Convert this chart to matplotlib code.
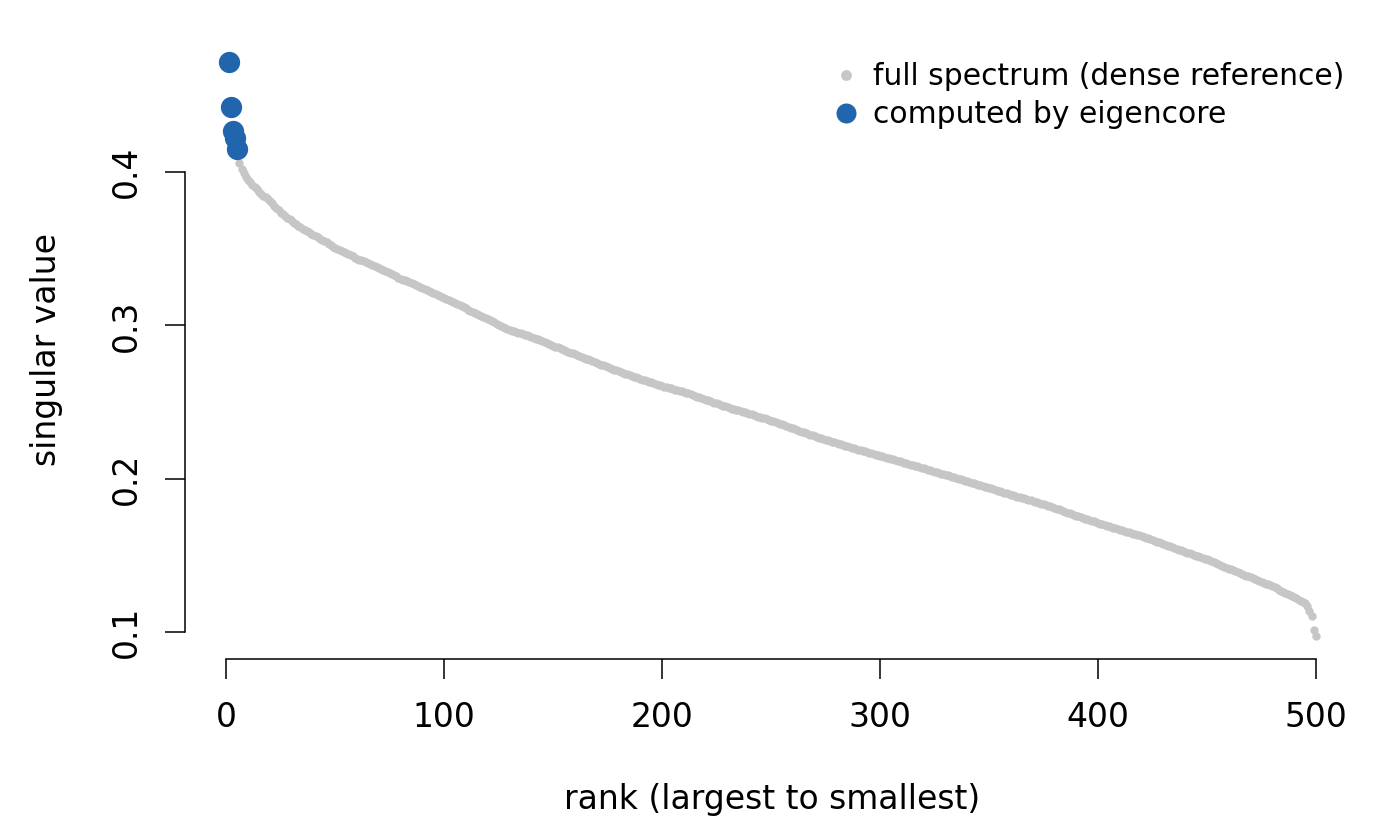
import matplotlib
matplotlib.use("Agg")
import matplotlib.pyplot as plt
from matplotlib.lines import Line2D

# singular values, rank 1..500
singular_values = [
    0.4717, 0.4424, 0.4267, 0.4222, 0.4150, 0.4057, 0.4020, 0.3990, 0.3968, 0.3950,
    0.3934, 0.3918, 0.3902, 0.3886, 0.3870, 0.3858, 0.3846, 0.3834, 0.3822, 0.3810,
    0.3795, 0.3780, 0.3765, 0.3750, 0.3735, 0.3724, 0.3713, 0.3702, 0.3691, 0.3680,
    0.3670, 0.3660, 0.3650, 0.3640, 0.3630, 0.3622, 0.3614, 0.3606, 0.3598, 0.3590,
    0.3582, 0.3574, 0.3566, 0.3558, 0.3550, 0.3541, 0.3532, 0.3523, 0.3514, 0.3505,
    0.3498, 0.3491, 0.3484, 0.3477, 0.3470, 0.3463, 0.3456, 0.3449, 0.3442, 0.3435,
    0.3429, 0.3423, 0.3417, 0.3411, 0.3405, 0.3399, 0.3393, 0.3387, 0.3381, 0.3375,
    0.3368, 0.3361, 0.3354, 0.3347, 0.3340, 0.3333, 0.3326, 0.3319, 0.3312, 0.3305,
    0.3299, 0.3293, 0.3287, 0.3281, 0.3275, 0.3269, 0.3263, 0.3257, 0.3251, 0.3245,
    0.3239, 0.3232, 0.3226, 0.3219, 0.3213, 0.3206, 0.3200, 0.3193, 0.3187, 0.3180,
    0.3173, 0.3166, 0.3159, 0.3152, 0.3145, 0.3138, 0.3131, 0.3124, 0.3117, 0.3110,
    0.3103, 0.3096, 0.3089, 0.3082, 0.3075, 0.3068, 0.3061, 0.3054, 0.3047, 0.3040,
    0.3033, 0.3026, 0.3019, 0.3012, 0.3005, 0.2998, 0.2991, 0.2984, 0.2977, 0.2970,
    0.2966, 0.2961, 0.2957, 0.2952, 0.2948, 0.2943, 0.2939, 0.2934, 0.2930, 0.2925,
    0.2919, 0.2914, 0.2908, 0.2902, 0.2897, 0.2891, 0.2885, 0.2880, 0.2874, 0.2868,
    0.2862, 0.2857, 0.2851, 0.2846, 0.2840, 0.2834, 0.2829, 0.2823, 0.2818, 0.2812,
    0.2806, 0.2801, 0.2795, 0.2789, 0.2784, 0.2778, 0.2772, 0.2767, 0.2761, 0.2755,
    0.2750, 0.2744, 0.2739, 0.2733, 0.2728, 0.2722, 0.2717, 0.2711, 0.2706, 0.2700,
    0.2695, 0.2690, 0.2686, 0.2681, 0.2676, 0.2671, 0.2666, 0.2662, 0.2657, 0.2652,
    0.2647, 0.2643, 0.2638, 0.2633, 0.2629, 0.2624, 0.2619, 0.2614, 0.2610, 0.2605,
    0.2601, 0.2597, 0.2593, 0.2589, 0.2586, 0.2582, 0.2578, 0.2574, 0.2570, 0.2566,
    0.2561, 0.2556, 0.2551, 0.2546, 0.2541, 0.2536, 0.2531, 0.2526, 0.2521, 0.2516,
    0.2511, 0.2506, 0.2501, 0.2496, 0.2492, 0.2487, 0.2482, 0.2477, 0.2472, 0.2467,
    0.2463, 0.2458, 0.2454, 0.2450, 0.2446, 0.2441, 0.2437, 0.2433, 0.2428, 0.2424,
    0.2420, 0.2415, 0.2411, 0.2406, 0.2402, 0.2397, 0.2393, 0.2388, 0.2384, 0.2379,
    0.2374, 0.2369, 0.2364, 0.2359, 0.2354, 0.2348, 0.2343, 0.2338, 0.2333, 0.2328,
    0.2323, 0.2318, 0.2313, 0.2308, 0.2303, 0.2298, 0.2293, 0.2288, 0.2283, 0.2278,
    0.2273, 0.2269, 0.2264, 0.2260, 0.2255, 0.2250, 0.2246, 0.2241, 0.2237, 0.2232,
    0.2228, 0.2224, 0.2219, 0.2215, 0.2211, 0.2207, 0.2203, 0.2198, 0.2194, 0.2190,
    0.2186, 0.2182, 0.2178, 0.2174, 0.2170, 0.2166, 0.2162, 0.2158, 0.2154, 0.2150,
    0.2146, 0.2142, 0.2138, 0.2134, 0.2130, 0.2126, 0.2122, 0.2118, 0.2114, 0.2110,
    0.2106, 0.2102, 0.2097, 0.2093, 0.2089, 0.2085, 0.2081, 0.2076, 0.2072, 0.2068,
    0.2064, 0.2060, 0.2055, 0.2051, 0.2047, 0.2043, 0.2039, 0.2034, 0.2030, 0.2026,
    0.2022, 0.2017, 0.2013, 0.2009, 0.2005, 0.2000, 0.1996, 0.1992, 0.1987, 0.1983,
    0.1979, 0.1975, 0.1970, 0.1966, 0.1962, 0.1958, 0.1954, 0.1949, 0.1945, 0.1941,
    0.1937, 0.1932, 0.1928, 0.1923, 0.1919, 0.1915, 0.1910, 0.1906, 0.1901, 0.1897,
    0.1893, 0.1889, 0.1884, 0.1880, 0.1876, 0.1872, 0.1868, 0.1863, 0.1859, 0.1855,
    0.1851, 0.1846, 0.1842, 0.1837, 0.1833, 0.1829, 0.1824, 0.1820, 0.1815, 0.1811,
    0.1806, 0.1801, 0.1796, 0.1791, 0.1786, 0.1780, 0.1775, 0.1770, 0.1765, 0.1760,
    0.1755, 0.1750, 0.1746, 0.1741, 0.1736, 0.1731, 0.1726, 0.1722, 0.1717, 0.1712,
    0.1708, 0.1703, 0.1699, 0.1694, 0.1690, 0.1686, 0.1681, 0.1677, 0.1672, 0.1668,
    0.1664, 0.1660, 0.1656, 0.1652, 0.1648, 0.1643, 0.1639, 0.1635, 0.1631, 0.1627,
    0.1622, 0.1616, 0.1611, 0.1606, 0.1601, 0.1595, 0.1590, 0.1585, 0.1579, 0.1574,
    0.1569, 0.1564, 0.1559, 0.1554, 0.1549, 0.1544, 0.1539, 0.1534, 0.1529, 0.1524,
    0.1519, 0.1514, 0.1509, 0.1504, 0.1499, 0.1494, 0.1489, 0.1484, 0.1479, 0.1474,
    0.1468, 0.1462, 0.1456, 0.1450, 0.1445, 0.1439, 0.1433, 0.1427, 0.1421, 0.1415,
    0.1409, 0.1404, 0.1398, 0.1392, 0.1387, 0.1381, 0.1375, 0.1369, 0.1364, 0.1358,
    0.1352, 0.1346, 0.1341, 0.1335, 0.1329, 0.1323, 0.1317, 0.1312, 0.1306, 0.1300,
    0.1293, 0.1286, 0.1278, 0.1271, 0.1264, 0.1257, 0.1250, 0.1242, 0.1235, 0.1228,
    0.1220, 0.1212, 0.1205, 0.1198, 0.1190, 0.1172, 0.1140, 0.1105, 0.1013, 0.0975,
]
ranks = list(range(1, len(singular_values) + 1))

computed_ranks = [1, 2, 3, 4, 5]
computed_values = [0.4717, 0.4424, 0.4267, 0.4222, 0.4150]

x_ticks = [0, 100, 200, 300, 400, 500]
x_tick_labels = ["0", "100", "200", "300", "400", "500"]
y_ticks = [0.1, 0.2, 0.3, 0.4]
y_tick_labels = ["0.1", "0.2", "0.3", "0.4"]

legend_labels = ["full spectrum (dense reference)", "computed by eigencore"]
x_label = "rank (largest to smallest)"
y_label = "singular value"

GRAY = "#C6C6C6"
BLUE = "#2166AC"

W, H = 1400, 819
fig = plt.figure(figsize=(W / 100, H / 100), dpi=100)
left, right, top, bottom = 185, 1359.5, 39, 659
aw, ah = right - left, bottom - top
ax = fig.add_axes([left / W, 1 - bottom / H, aw / W, ah / H])

ax.scatter(ranks, singular_values, s=36, color=GRAY, linewidths=0, zorder=2)
ax.scatter(computed_ranks, computed_values, s=235, color=BLUE, linewidths=0, zorder=3)

# R-style 4% axis extension
xmin, xmax = min(ranks), max(ranks)
ymin, ymax = min(singular_values), max(singular_values)
dx, dy = (xmax - xmin) * 0.04, (ymax - ymin) * 0.04
ax.set_xlim(xmin - dx, xmax + dx)
ax.set_ylim(ymin - dy, ymax + dy)

FS = 23.8
ax.set_xticks(x_ticks)
ax.set_xticklabels(x_tick_labels, fontsize=FS)
ax.set_yticks(y_ticks)
ax.set_yticklabels(y_tick_labels, fontsize=FS, rotation=90, va="center", ha="right")
ax.tick_params(axis="both", direction="out", length=14.4, width=1.1, pad=15.6, color="black")

for s in ("top", "right"):
    ax.spines[s].set_visible(False)
ax.spines["left"].set_bounds(0.1, 0.4)
ax.spines["bottom"].set_bounds(0, 500)
for s in ("left", "bottom"):
    ax.spines[s].set_linewidth(1.1)

ax.set_xlabel(x_label, fontsize=FS)
ax.xaxis.set_label_coords(0.5, -(800 - bottom) / ah)
ax.xaxis.label.set_va("center")
ax.set_ylabel(y_label, fontsize=FS)
ax.yaxis.set_label_coords(-(left - 47) / aw, 0.5)
ax.yaxis.label.set_va("center")

handles = [
    Line2D([], [], marker="o", ls="", color=GRAY, markersize=7.8, markeredgewidth=0),
    Line2D([], [], marker="o", ls="", color=BLUE, markersize=14.4, markeredgewidth=0),
]
ax.legend(handles, legend_labels, loc="upper right", frameon=False,
          fontsize=21.4, handletextpad=0.3, labelspacing=0.3,
          borderaxespad=0.0, borderpad=0.25, handlelength=1.2,
          bbox_to_anchor=(1.0 - 8 / aw, 1.0 - 16 / ah))

fig.savefig("out.png", dpi=100)
